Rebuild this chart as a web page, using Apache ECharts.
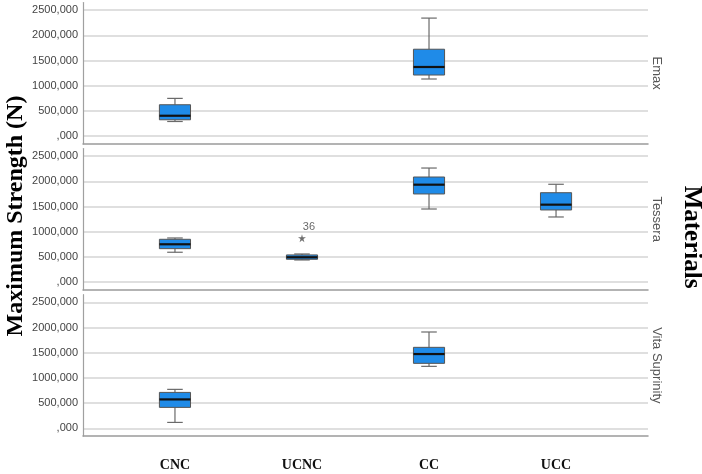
<!DOCTYPE html>
<html>
<head>
<meta charset="utf-8">
<title>Maximum Strength by Material</title>
<script src="https://cdn.jsdelivr.net/npm/echarts@6/dist/echarts.min.js"></script>
<style>
  html, body { margin: 0; padding: 0; background: #fff; }
  #chart { width: 702px; height: 474px; }
</style>
</head>
<body>
<div id="chart"></div>
<script>
// categories on the x axis, materials = one panel each
var categories = ['CNC', 'UCNC', 'CC', 'UCC'];
var materials = ['Emax', 'Tessera', 'Vita Suprinity'];

// y ticks and the way SPSS printed them
var yTickValues = [0, 500000, 1000000, 1500000, 2000000, 2500000];
var yTickLabels = [',000', '500,000', '1000,000', '1500,000', '2000,000', '2500,000'];

// boxes: [category index, min, Q1, median, Q3, max]
var emaxBoxes = [
  [0, 292000, 326000, 406000, 624000, 750000],
  [2, 1134000, 1213000, 1372000, 1724000, 2341000]
];
var tesseraBoxes = [
  [0, 594000, 665000, 752000, 851000, 877000],
  [1, 441000, 455000, 495000, 541000, 560000],
  [2, 1451000, 1749000, 1933000, 2085000, 2263000],
  [3, 1293000, 1432000, 1537000, 1774000, 1941000]
];
var vitaBoxes = [
  [0, 119000, 417000, 575000, 714000, 774000],
  [2, 1230000, 1290000, 1474000, 1607000, 1911000]
];
var panelBoxes = [emaxBoxes, tesseraBoxes, vitaBoxes];

// extreme values: [category index, value, case id]
var tesseraOutliers = [[1, 871000, '36']];
var panelOutliers = [[], tesseraOutliers, []];

var chart = echarts.init(document.getElementById('chart'));

var panelTops = [2.5, 148.5, 294.7];
var panelHeight = 141.3;
var gridLeft = 83, gridRight = 54;

var boxFill = '#1f8be8';

// SPSS style box: half width caps, black median
function renderBox(params, api) {
  var x = api.value(0);
  var pMin = api.coord([x, api.value(1)]);
  var pQ1 = api.coord([x, api.value(2)]);
  var pMed = api.coord([x, api.value(3)]);
  var pQ3 = api.coord([x, api.value(4)]);
  var pMax = api.coord([x, api.value(5)]);
  var w = api.size([1, 0])[0] * 0.245;
  var cx = pMed[0];
  var cap = w / 4;
  var whisker = { stroke: '#6a6a6a', lineWidth: 1.2 };
  return {
    type: 'group',
    children: [
      { type: 'line', shape: { x1: cx, y1: pQ3[1], x2: cx, y2: pMax[1] }, style: whisker },
      { type: 'line', shape: { x1: cx, y1: pQ1[1], x2: cx, y2: pMin[1] }, style: whisker },
      { type: 'line', shape: { x1: cx - cap, y1: pMax[1], x2: cx + cap, y2: pMax[1] }, style: whisker },
      { type: 'line', shape: { x1: cx - cap, y1: pMin[1], x2: cx + cap, y2: pMin[1] }, style: whisker },
      {
        type: 'rect',
        shape: { x: cx - w / 2, y: pQ3[1], width: w, height: pQ1[1] - pQ3[1] },
        style: { fill: boxFill, stroke: '#555', lineWidth: 1 }
      },
      { type: 'line', shape: { x1: cx - w / 2, y1: pMed[1], x2: cx + w / 2, y2: pMed[1] }, style: { stroke: '#111', lineWidth: 2.2 } }
    ]
  };
}

var grids = [], xAxes = [], yAxes = [], series = [], graphics = [];

materials.forEach(function (name, i) {
  grids.push({ left: gridLeft, right: gridRight, top: panelTops[i], height: panelHeight });
  xAxes.push({
    type: 'value',
    gridIndex: i,
    min: -0.724,
    max: 3.724,
    axisLine: { show: true, onZero: false, lineStyle: { color: '#9a9a9a', width: 1.5 } },
    axisTick: { show: false },
    splitLine: { show: false },
    axisLabel: {
      show: i === materials.length - 1,
      showMinLabel: false,
      showMaxLabel: false,
      margin: 22,
      fontFamily: 'Liberation Serif',
      fontWeight: 'bold',
      fontSize: 14,
      color: '#111',
      formatter: function (v) {
        return Number.isInteger(v) && categories[v] ? categories[v] : '';
      }
    }
  });
  yAxes.push({
    type: 'value',
    gridIndex: i,
    min: -150000,
    max: 2650000,
    axisLine: { show: true, onZero: false, lineStyle: { color: '#a0a0a0', width: 1.2 } },
    axisTick: { show: false },
    splitLine: { show: true, showMinLine: false, showMaxLine: false, lineStyle: { color: '#d4d4d4', width: 1.5 } },
    axisLabel: {
      margin: 5,
      showMinLabel: false,
      showMaxLabel: false,
      fontFamily: 'Liberation Sans Narrow, Liberation Sans, Arial',
      fontSize: 11,
      color: '#444',
      formatter: function (v) {
        var k = yTickValues.indexOf(v);
        return k >= 0 ? yTickLabels[k] : '';
      }
    }
  });
  series.push({
    type: 'custom',
    xAxisIndex: i,
    yAxisIndex: i,
    renderItem: renderBox,
    encode: { x: 0, y: [1, 2, 3, 4, 5] },
    data: panelBoxes[i],
    silent: true
  });
  if (panelOutliers[i].length) {
    series.push({
      type: 'scatter',
      xAxisIndex: i,
      yAxisIndex: i,
      symbol: 'path://M5,0 L6,3.6 L10,3.8 L6.8,6 L8,10 L5,7.5 L2,10 L3.2,6 L0,3.8 L4,3.6 Z',
      symbolSize: 8,
      itemStyle: { color: '#4a4a4a' },
      label: {
        show: true,
        position: 'top',
        offset: [7, 3],
        fontFamily: 'Liberation Sans Narrow, Liberation Sans, Arial',
        fontSize: 11,
        color: '#444',
        formatter: function (p) { return p.data[2]; }
      },
      data: panelOutliers[i]
    });
  }
  graphics.push({
    type: 'text',
    x: 657,
    y: panelTops[i] + panelHeight / 2,
    rotation: -Math.PI / 2,
    style: {
      text: name,
      fontFamily: 'Liberation Sans, Arial',
      fontSize: 13,
      fill: '#555',
      align: 'center',
      verticalAlign: 'middle'
    }
  });
});

graphics.push({
  type: 'text',
  x: 16,
  y: 216,
  rotation: Math.PI / 2,
  style: {
    text: 'Maximum Strength (N)',
    fontFamily: 'Liberation Serif',
    fontWeight: 'bold',
    fontSize: 24,
    fill: '#000',
    align: 'center',
    verticalAlign: 'middle'
  }
});
graphics.push({
  type: 'text',
  x: 691,
  y: 237,
  rotation: -Math.PI / 2,
  style: {
    text: 'Materials',
    fontFamily: 'Liberation Serif',
    fontWeight: 'bold',
    fontSize: 25,
    fill: '#000',
    align: 'center',
    verticalAlign: 'middle'
  }
});

chart.setOption({
  animation: false,
  grid: grids,
  xAxis: xAxes,
  yAxis: yAxes,
  series: series,
  graphic: graphics
});
</script>
</body>
</html>
